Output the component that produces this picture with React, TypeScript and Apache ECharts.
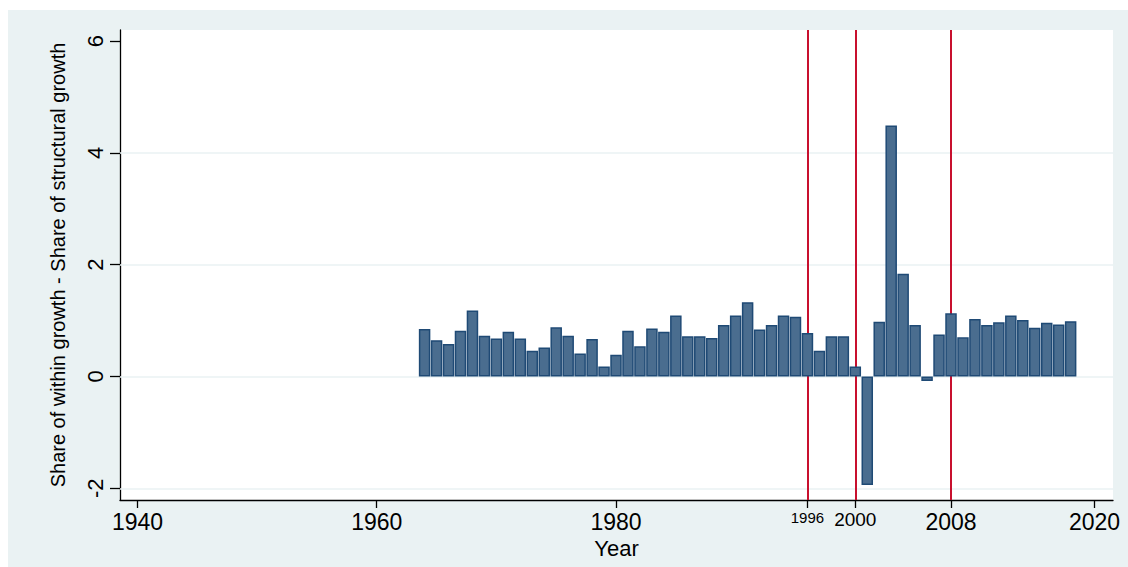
import React, { useEffect, useRef } from "react";
import * as echarts from "echarts";

const years = [
  1964, 1965, 1966, 1967, 1968, 1969, 1970, 1971, 1972, 1973, 1974, 1975, 1976, 1977,
  1978, 1979, 1980, 1981, 1982, 1983, 1984, 1985, 1986, 1987, 1988, 1989, 1990, 1991,
  1992, 1993, 1994, 1995, 1996, 1997, 1998, 1999, 2000, 2001, 2002, 2003, 2004, 2005,
  2006, 2007, 2008, 2009, 2010, 2011, 2012, 2013, 2014, 2015, 2016, 2017, 2018,
];
const values = [
  0.85, 0.65, 0.58, 0.82, 1.18, 0.73, 0.68, 0.8, 0.68, 0.46, 0.52, 0.88, 0.73, 0.41,
  0.67, 0.18, 0.39, 0.82, 0.54, 0.86, 0.8, 1.09, 0.72, 0.72, 0.69, 0.92, 1.09, 1.33,
  0.84, 0.92, 1.09, 1.07, 0.78, 0.46, 0.72, 0.72, 0.18, -1.94, 0.98, 4.49, 1.84, 0.92,
  -0.08, 0.75, 1.13, 0.7, 1.03, 0.92, 0.97, 1.09, 1.01, 0.87, 0.96, 0.93, 0.99,
];
const xTicks = [1940, 1960, 1980, 1996, 2000, 2008, 2020];
const yTicks = [-2, 0, 2, 4, 6];
const yGridLines = [-2, 0, 2, 4];
const breakYears = [1996, 2000, 2008];

export default function App() {
  const ref = useRef<HTMLDivElement>(null);
  useEffect(() => {
    if (!ref.current) return;
    const chart = echarts.init(ref.current, null, { renderer: "svg" });
    const font = "Liberation Sans, Arial, sans-serif";
    chart.setOption({
      animation: false,
      backgroundColor: "#ffffff",
      textStyle: { fontFamily: font },
      graphic: [
        {
          type: "rect",
          z: -10,
          silent: true,
          shape: { x: 8, y: 10, width: 1120, height: 557 },
          style: { fill: "#EAF2F3" },
        },
      ],
      grid: {
        left: 120,
        right: 15,
        top: 30,
        bottom: 67,
        show: true,
        backgroundColor: "#ffffff",
        borderWidth: 0,
      },
      xAxis: {
        type: "value",
        min: 1938.54,
        max: 2021.54,
        name: "Year",
        nameLocation: "middle",
        nameGap: 26,
        nameTextStyle: { fontSize: 22, color: "#000", fontFamily: font },
        axisLine: { show: true, onZero: false, lineStyle: { color: "#000", width: 1.3 } },
        axisTick: { show: true, length: 8, customValues: xTicks, lineStyle: { color: "#000", width: 1.3 } },
        axisLabel: {
          customValues: xTicks,
          margin: 10,
          color: "#000",
          fontSize: 23,
          fontFamily: font,
          formatter: (v: number) => {
            if (v === 1996) return "{s|1996}";
            if (v === 2000) return "{m|2000}";
            return String(v);
          },
          rich: {
            s: { fontSize: 15, color: "#000", fontFamily: font },
            m: { fontSize: 19, color: "#000", fontFamily: font },
          },
        },
        splitLine: { show: false },
      },
      yAxis: {
        type: "value",
        min: -2.21,
        max: 6.2,
        name: "Share of within growth - Share of structural growth",
        nameLocation: "middle",
        nameGap: 52,
        nameRotate: 90,
        nameTextStyle: { fontSize: 20, color: "#000", fontFamily: font },
        axisLine: { show: true, onZero: false, lineStyle: { color: "#000", width: 1.3 } },
        axisTick: { show: true, length: 10, customValues: yTicks, lineStyle: { color: "#000", width: 1.3 } },
        axisLabel: {
          customValues: yTicks,
          rotate: 90,
          margin: 14,
          color: "#000",
          fontSize: 22,
          fontFamily: font,
        },
        splitLine: { show: false },
      },
      series: [
        {
          type: "line",
          data: [],
          silent: true,
          markLine: {
            silent: true,
            z: 1,
            symbol: ["none", "none"],
            label: { show: false },
            emphasis: { disabled: true },
            data: [
              ...yGridLines.map((v) => ({ yAxis: v, lineStyle: { color: "#EAF2F3", width: 1.5, type: "solid" } })),
              ...breakYears.map((v) => ({ xAxis: v, lineStyle: { color: "#C8102E", width: 2, type: "solid" } })),
            ],
          },
        },
        {
          type: "bar",
          z: 3,
          barWidth: 11.5,
          data: years.map((y, i) => [y, values[i]]),
          itemStyle: { color: "#4A6D8F", borderColor: "#1F4A75", borderWidth: 1.5 },
        },
      ],
    });
    return () => chart.dispose();
  }, []);
  return <div ref={ref} style={{ position: "fixed", left: 0, top: 0, width: 1128, height: 567 }} />;
}
